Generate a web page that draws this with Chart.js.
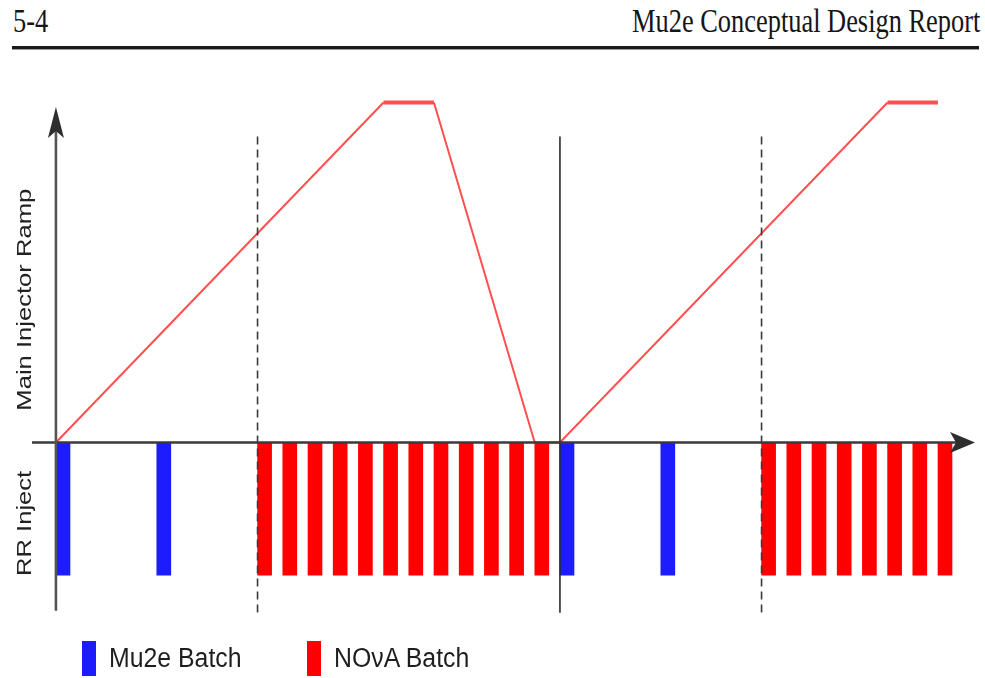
<!DOCTYPE html>
<html>
<head>
<meta charset="utf-8">
<script src="https://cdn.jsdelivr.net/npm/chart.js@4/dist/chart.umd.min.js"></script>
<style>
  html, body { margin: 0; padding: 0; background: #fff; }
  #wrap { position: relative; width: 985px; height: 678px; overflow: hidden; background: #fff; }
  #chart { position: absolute; left: 0; top: 0; }
  .hdr { position: absolute; top: 5px; font-family: "Liberation Serif", "Times New Roman", serif;
         font-size: 33px; line-height: 33px; color: #151515; white-space: nowrap; }
  #hdrLeft { left: 13px; transform: scaleX(0.8); transform-origin: left top; }
  #hdrRight { right: 5px; transform: scaleX(0.8); transform-origin: right top; }
  #rule1 { position: absolute; left: 12px; width: 967px; top: 46px; height: 3px; background: #1a1a1a; }
  #rule2 { position: absolute; left: 12px; width: 967px; top: 49px; height: 1px; background: #9a9a9a; }
  .legItem { position: absolute; top: 641px; height: 35px; }
  .legSwatch { position: absolute; left: 0; top: 0; width: 14px; height: 35px; }
  .legText { position: absolute; left: 27px; top: 4px; font-family: "Liberation Sans", Arial, sans-serif;
             font-size: 27px; line-height: 27px; color: #1e1e1e; white-space: nowrap;
             transform: scaleX(0.92); transform-origin: left top; }
</style>
</head>
<body>
<div id="wrap">
  <div class="hdr" id="hdrLeft">5-4</div>
  <div class="hdr" id="hdrRight">Mu2e Conceptual Design Report</div>
  <div id="rule1"></div>
  <div id="rule2"></div>
  <canvas id="chart" width="985" height="678"></canvas>
  <div id="legend"></div>
</div>
<script>
// ---------------- data ----------------
const mu2eBatchTimes  = [0, 4, 20, 24];
const mu2eBatchLevels = [-0.39, -0.39, -0.39, -0.39];
const novaBatchTimes  = [8, 9, 10, 11, 12, 13, 14, 15, 16, 17, 18, 19,
                         28, 29, 30, 31, 32, 33, 34, 35];
const novaBatchLevels = [-0.39, -0.39, -0.39, -0.39, -0.39, -0.39, -0.39, -0.39, -0.39, -0.39, -0.39, -0.39,
                         -0.39, -0.39, -0.39, -0.39, -0.39, -0.39, -0.39, -0.39];
const rampTimes  = [0, 13, 15, 19, 20, 33, 35];
const rampLevels = [0, 1, 1, 0, 0, 1, 1];
const dashedGuideTimes = [8, 28];
const cycleStartTimes  = [20];
const seriesLabels = ["Mu2e Batch", "NOνA Batch"];
const axisTitles   = ["Main Injector Ramp", "RR Inject"];

// ---------------- styling constants ----------------
const BAR_PX = 14;          // bar thickness in pixels
const BAR_SHIFT = 0.28;     // bars start at their time tick (left edge)
const MU2E_COLOR = "rgb(28,28,255)";
const NOVA_COLOR = "rgb(255,0,0)";
const RAMP_COLOR = "rgba(255,60,60,0.9)";
const AXIS_COLOR = "#3a3a3a";

const toPoints = (xs, ys, shift) => xs.map((t, i) => ({ x: t + shift, y: ys[i] }));

const overlay = {
  id: "overlay",
  afterDatasetsDraw(chart) {
    const { ctx, scales: { x, y } } = chart;
    const x0 = x.getPixelForValue(0);
    const y0 = y.getPixelForValue(0);
    const guideTop = y.getPixelForValue(0.9);
    const axisBottom = y.getPixelForValue(-0.495);
    const yTip = y.getPixelForValue(0.987);
    const xTip = x.right;
    ctx.save();
    // dashed guides
    ctx.strokeStyle = "#3a3a3a";
    ctx.lineWidth = 1.6;
    ctx.setLineDash([8, 5]);
    dashedGuideTimes.forEach(t => {
      const px = x.getPixelForValue(t);
      ctx.beginPath(); ctx.moveTo(px, guideTop); ctx.lineTo(px, axisBottom + 2); ctx.stroke();
    });
    ctx.setLineDash([]);
    // cycle boundary (solid)
    ctx.strokeStyle = "#2a2a2a";
    ctx.lineWidth = 1.6;
    cycleStartTimes.forEach(t => {
      const px = x.getPixelForValue(t);
      ctx.beginPath(); ctx.moveTo(px, guideTop); ctx.lineTo(px, axisBottom + 2); ctx.stroke();
    });
    // axes
    ctx.strokeStyle = AXIS_COLOR;
    ctx.fillStyle = AXIS_COLOR;
    ctx.lineWidth = 2.6;
    ctx.beginPath(); ctx.moveTo(x.left, y0); ctx.lineTo(xTip - 18, y0); ctx.stroke();
    ctx.strokeStyle = "#555";
    ctx.beginPath(); ctx.moveTo(x0, axisBottom); ctx.lineTo(x0, yTip + 22); ctx.stroke();
    // arrow heads
    ctx.fillStyle = "#2e2e2e";
    ctx.beginPath();
    ctx.moveTo(xTip, y0);
    ctx.lineTo(xTip - 25, y0 - 10.5);
    ctx.lineTo(xTip - 19, y0);
    ctx.lineTo(xTip - 25, y0 + 10.5);
    ctx.closePath(); ctx.fill();
    ctx.beginPath();
    ctx.moveTo(x0, yTip);
    ctx.lineTo(x0 - 8, yTip + 31);
    ctx.lineTo(x0, yTip + 24);
    ctx.lineTo(x0 + 8, yTip + 31);
    ctx.closePath(); ctx.fill();
    // axis titles (rotated)
    ctx.fillStyle = "#222";
    ctx.font = '20px "Liberation Sans", Arial, sans-serif';
    ctx.textAlign = "center";
    ctx.textBaseline = "alphabetic";
    const titlePos = [[31, y.getPixelForValue(0.42)], [31, y.getPixelForValue(-0.238)]];
    axisTitles.forEach((txt, i) => {
      ctx.save();
      ctx.translate(titlePos[i][0], titlePos[i][1]);
      ctx.rotate(-Math.PI / 2);
      ctx.scale(1.28, 1);
      ctx.fillText(txt, 0, 0);
      ctx.restore();
    });
    ctx.restore();
  }
};

const chart = new Chart(document.getElementById("chart"), {
  type: "bar",
  data: {
    datasets: [
      {
        type: "line",
        label: "Main Injector Ramp",
        data: toPoints(rampTimes, rampLevels, 0),
        borderColor: RAMP_COLOR,
        borderWidth: 2,
        pointRadius: 0,
        tension: 0,
        fill: false,
        segment: {
          borderWidth: c => (c.p0.parsed.y === c.p1.parsed.y && c.p0.parsed.y > 0 ? 4 : 2)
        },
        order: 0
      },
      {
        label: seriesLabels[0],
        data: toPoints(mu2eBatchTimes, mu2eBatchLevels, BAR_SHIFT),
        backgroundColor: MU2E_COLOR,
        barThickness: BAR_PX,
        grouped: false,
        borderWidth: 0,
        order: 1
      },
      {
        label: seriesLabels[1],
        data: toPoints(novaBatchTimes, novaBatchLevels, BAR_SHIFT),
        backgroundColor: NOVA_COLOR,
        barThickness: BAR_PX,
        grouped: false,
        borderWidth: 0,
        order: 1
      }
    ]
  },
  options: {
    responsive: false,
    animation: false,
    layout: { padding: { left: 32, right: 10, top: 68.5, bottom: 65.5 } },
    scales: {
      x: { type: "linear", min: -0.95, max: 36.47, offset: false, display: false },
      y: { type: "linear", min: -0.5, max: 1.1, display: false }
    },
    plugins: { legend: { display: false }, tooltip: { enabled: false } }
  },
  plugins: [overlay]
});

// HTML legend built from the bar datasets
const legendPos = [82, 307];
const legendEl = document.getElementById("legend");
chart.data.datasets.slice(1).forEach((ds, i) => {
  const item = document.createElement("div");
  item.className = "legItem";
  item.style.left = legendPos[i] + "px";
  const sw = document.createElement("div");
  sw.className = "legSwatch";
  sw.style.background = ds.backgroundColor;
  const tx = document.createElement("div");
  tx.className = "legText";
  tx.textContent = ds.label;
  item.appendChild(sw); item.appendChild(tx);
  legendEl.appendChild(item);
});
</script>
</body>
</html>
